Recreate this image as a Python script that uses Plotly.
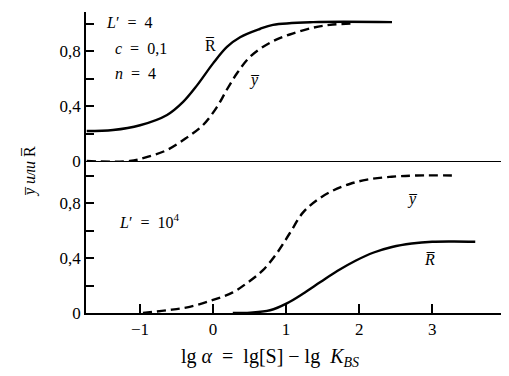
import plotly.graph_objects as go

# Top panel (L' = 4, c = 0,1, n = 4)
top_R_x = [-1.73, -1.37, -1.00, -0.63, -0.41, -0.22, 0.00, 0.19, 0.37, 0.64, 0.82, 1.37, 2.45]
top_R_y = [0.218, 0.225, 0.26, 0.335, 0.43, 0.55, 0.71, 0.83, 0.90, 0.96, 0.99, 1.01, 1.01]
top_Y_x = [-1.73, -1.14, -0.90, -0.63, -0.36, -0.14, 0.05, 0.19, 0.33, 0.51, 0.78, 1.05, 1.37, 1.60, 1.92]
top_Y_y = [0.0, 0.0, 0.03, 0.08, 0.17, 0.26, 0.39, 0.52, 0.64, 0.76, 0.86, 0.92, 0.97, 0.99, 1.00]

# Bottom panel (L' = 10^4)
bot_Y_x = [-0.96, -0.63, -0.32, 0.0, 0.27, 0.47, 0.68, 0.88, 1.05, 1.23, 1.42, 1.64, 1.88, 2.11, 2.42, 2.79, 3.34]
bot_Y_y = [0.0, 0.02, 0.045, 0.095, 0.15, 0.22, 0.31, 0.44, 0.58, 0.73, 0.82, 0.89, 0.94, 0.97, 0.99, 1.0, 1.0]
bot_R_x = [0.27, 0.51, 0.78, 1.01, 1.23, 1.47, 1.70, 1.95, 2.20, 2.45, 2.72, 3.00, 3.30, 3.59]
bot_R_y = [0.0, 0.003, 0.02, 0.07, 0.14, 0.225, 0.305, 0.38, 0.44, 0.48, 0.505, 0.518, 0.52, 0.518]

x_ticks = [-1, 0, 1, 2, 3]
x_tick_labels = ["−1", "0", "1", "2", "3"]
y_ticks = [0, 0.4, 0.8]
y_tick_labels = ["0", "0,4", "0,8"]
y_minor_step = 0.2

FONT = "Liberation Serif, Times New Roman, serif"
NB = "\u00a0"
OV = "\u0305"  # combining overline

fig = go.Figure()
solid = dict(color="black", width=2.4)
dashed = dict(color="black", width=2.4, dash="9px,5px")

fig.add_trace(go.Scatter(x=top_R_x, y=top_R_y, mode="lines", line=dict(**solid, shape="spline"),
                         xaxis="x2", yaxis="y2", showlegend=False))
fig.add_trace(go.Scatter(x=top_Y_x, y=top_Y_y, mode="lines", line=dict(**dashed, shape="spline"),
                         xaxis="x2", yaxis="y2", showlegend=False))
fig.add_trace(go.Scatter(x=bot_Y_x, y=bot_Y_y, mode="lines", line=dict(**dashed, shape="spline"),
                         xaxis="x", yaxis="y", showlegend=False))
fig.add_trace(go.Scatter(x=bot_R_x, y=bot_R_y, mode="lines", line=dict(**solid, shape="spline"),
                         xaxis="x", yaxis="y", showlegend=False))

# page body adds 8px offset; plot area target: x 86..503, y 12..313 in window
W, H = 501, 368
ML, MR, MT, MB = 78, 6, 4, 63
split = 152 / 301
xr = [-1.74, 3.97]
yaxis_common = dict(showline=True, linecolor="black", linewidth=1.5, ticks="inside", ticklen=8,
                    tickcolor="black", tickwidth=1.5, tickvals=y_ticks, ticktext=y_tick_labels,
                    minor=dict(dtick=y_minor_step, tick0=0, ticks="inside", ticklen=8,
                               tickcolor="black", tickwidth=1.5, showgrid=False),
                    showgrid=False, zeroline=False, tickfont=dict(family=FONT, size=17, color="black"))

fig.update_layout(
    width=W, height=H,
    margin=dict(l=ML, r=MR, t=MT, b=MB),
    paper_bgcolor="white", plot_bgcolor="white",
    font=dict(family=FONT, color="black"),
    xaxis=dict(domain=[0, 1], range=xr, anchor="y", showline=True, linecolor="black", linewidth=1.5,
               ticks="inside", ticklen=9, tickcolor="black", tickwidth=1.5,
               tickvals=x_ticks, ticktext=x_tick_labels, showgrid=False, zeroline=False,
               tickfont=dict(family=FONT, size=17, color="black")),
    xaxis2=dict(domain=[0, 1], range=xr, anchor="y2", matches="x", showline=True, linecolor="black",
                linewidth=1, ticks="", showticklabels=False, showgrid=False, zeroline=False),
    yaxis=dict(domain=[0, split], range=[0, 152 / 137.5], anchor="x", **yaxis_common),
    yaxis2=dict(domain=[split, 1], range=[0, 149 / 137.5], anchor="x2", **yaxis_common),
)

ann_font = dict(family=FONT, size=16, color="black")
eq = f"{NB}{NB}={NB}{NB}"
anns = [
    dict(text=f"<i>L</i>′{eq}4", x=-1.49, y=1.007, xref="x2", yref="y2", xanchor="left"),
    dict(text=f"<i>c</i>{eq}0,1", x=-1.37, y=0.82, xref="x2", yref="y2", xanchor="left"),
    dict(text=f"<i>n</i>{eq}4", x=-1.37, y=0.64, xref="x2", yref="y2", xanchor="left"),
    dict(text=f"R{OV}", x=-0.04, y=0.84, xref="x2", yref="y2", xanchor="center"),
    dict(text=f"<i>y{OV}</i>", x=0.56, y=0.59, xref="x2", yref="y2", xanchor="center"),
    dict(text=f"<i>L</i>′{eq}10<sup>4</sup>", x=-1.32, y=0.67, xref="x", yref="y", xanchor="left"),
    dict(text=f"<i>y{OV}</i>", x=2.73, y=0.83, xref="x", yref="y", xanchor="center"),
    dict(text=f"<i>R{OV}</i>", x=2.97, y=0.39, xref="x", yref="y", xanchor="center"),
]
for a in anns:
    fig.add_annotation(showarrow=False, yanchor="middle", font=ann_font, **a)

pw, ph = W - ML - MR, H - MT - MB

def px_to_paper(wx, wy):
    return (wx - 8 - ML) / pw, (H - MB - (wy - 8)) / ph

# x-axis title (window px center ~ (270, 357))
tx, ty = px_to_paper(270, 357)
fig.add_annotation(text=f"lg{NB}<i>α</i>{NB}{NB}={NB}{NB}lg[S]{NB}−{NB}lg{NB}{NB}<i>K</i><sub><i>BS</i></sub>",
                   xref="paper", yref="paper", x=tx, y=ty, xanchor="center", yanchor="middle",
                   showarrow=False, font=dict(family=FONT, size=20, color="black"))

# y-axis title (window px center ~ (30, 172))
vx, vy = px_to_paper(30, 172)
fig.add_annotation(text=f"<i>y{OV}</i> <i>или</i> R{OV}", xref="paper", yref="paper",
                   x=vx, y=vy, xanchor="center", yanchor="middle",
                   showarrow=False, textangle=-90, font=dict(family=FONT, size=16, color="black"))

fig.write_html("out.html")
